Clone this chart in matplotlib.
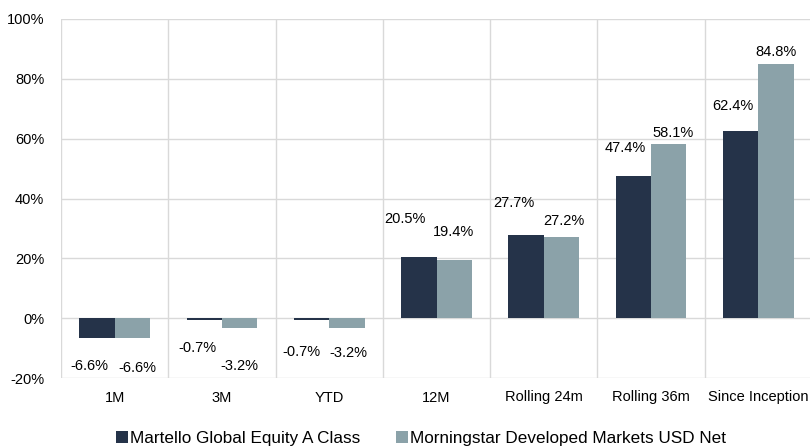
import matplotlib
matplotlib.use("Agg")
import matplotlib.pyplot as plt
import numpy as np

categories = ["1M", "3M", "YTD", "12M", "Rolling 24m", "Rolling 36m", "Since Inception"]
fund = [-6.6, -0.7, -0.7, 20.5, 27.7, 47.4, 62.4]
bench = [-6.6, -3.2, -3.2, 19.4, 27.2, 58.1, 84.8]
series_names = ["Martello Global Equity A Class", "Morningstar Developed Markets USD Net"]
yticks = [-20, 0, 20, 40, 60, 80, 100]

# label placement offsets in pixels (style only)
fund_off = [(-8, -28), (-7, -28), (-10, -32), (-14, 38), (-12, 32), (-8, 28), (-8, 25)]
bench_off = [(5, -30), (0, -38), (1, -25), (-1, 28), (2, 16), (4, 11), (0, 12)]

c_dark = "#253349"
c_light = "#8BA2A9"
grid_c = "#D9D9D9"

plt.rcParams['font.family'] = ['Liberation Sans', 'DejaVu Sans']

fig = plt.figure(figsize=(8.1, 4.46), dpi=100)
ax = fig.add_axes([61/810, 1-378/446, 751/810, (378-19)/446])

x = np.arange(len(categories))
w = 0.33
b1 = ax.bar(x - w/2, fund, w, color=c_dark, label=series_names[0], zorder=3)
b2 = ax.bar(x + w/2, bench, w, color=c_light, label=series_names[1], zorder=3)

for bars, vals, offs in ((b1, fund, fund_off), (b2, bench, bench_off)):
    for r, v, (dx, dy) in zip(bars, vals, offs):
        ax.annotate(f"{v:.1f}%", (r.get_x() + r.get_width()/2, v),
                    xytext=(dx, dy), textcoords='offset pixels',
                    ha='center', va='center', fontsize=10.5, color='#000000')

ax.set_xlim(-0.5, len(categories) - 0.5)
ax.set_ylim(-20, 100)
ax.set_yticks(yticks)
ax.set_yticklabels([f"{t}%" for t in yticks])
ax.set_xticks(x)
ax.set_xticklabels(categories)
ax.set_xticks(np.arange(-0.5, len(categories), 1.0), minor=True)
ax.tick_params(axis='both', which='both', length=0, labelsize=10.5, colors='#000000')
ax.tick_params(axis='x', pad=9)
ax.tick_params(axis='y', pad=12)
ax.grid(axis='y', which='major', color=grid_c, linewidth=1, zorder=0)
ax.grid(axis='x', which='minor', color=grid_c, linewidth=1, zorder=0)
for s in ax.spines.values():
    s.set_visible(False)

leg = fig.legend(handles=[b1, b2], labels=series_names, loc='center',
                 bbox_to_anchor=(421/810, 1-438/446), ncol=2, frameon=False,
                 fontsize=12.3, handlelength=0.7, handleheight=0.7,
                 handletextpad=0.15, columnspacing=2.05, borderaxespad=0)

fig.savefig("out.png", dpi=100)
